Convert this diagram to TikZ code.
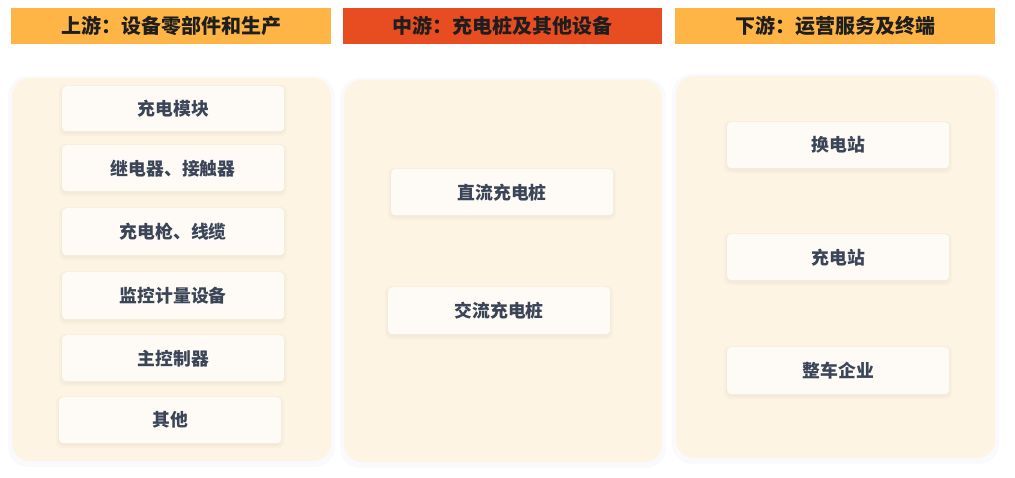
\documentclass[tikz,border=0pt]{standalone}
\usepackage{fontspec}
\setmainfont{Noto Sans CJK SC}
\definecolor{hdrY}{HTML}{FFB545}
\definecolor{hdrR}{HTML}{E84D22}
\definecolor{panel}{HTML}{FDF4E4}
\definecolor{boxfill}{HTML}{FEFBF6}
\definecolor{boxtext}{HTML}{3B4557}
\definecolor{hdrtext}{HTML}{1E1E1E}
\tikzset{
  hdr/.style={minimum width=320pt, minimum height=36pt, inner sep=0pt, text=hdrtext, font=\fontsize{20}{23}\selectfont\bfseries},
  panelbox/.style={fill=panel, rounded corners=18pt, draw=none},
  item/.style={minimum width=222pt, minimum height=46pt, inner sep=0pt, fill=boxfill, rounded corners=4pt, text=boxtext, font=\fontsize{17.8}{20}\selectfont\bfseries},
  shade/.style={fill=black!60!brown, opacity=0.025, rounded corners=6pt}
}
\newcommand{\itemshadow}[4]{%
  \fill[shade] (#1-3,#2-1) rectangle (#3+3,#4+5);
  \fill[shade] (#1-1,#2) rectangle (#3+1,#4+3);
}
\begin{document}
\begin{tikzpicture}[x=1pt,y=-1pt]
\useasboundingbox (0,0) rectangle (1015,477);
\fill[white] (0,0) rectangle (1015,477);
% headers
\node[hdr, fill=hdrY, anchor=north west] (h1) at (11,8) {上游：设备零部件和生产};
\node[hdr, fill=hdrR, anchor=north west, minimum width=319pt] (h2) at (343,8) {中游：充电桩及其他设备};
\node[hdr, fill=hdrY, anchor=north west] (h3) at (675,8) {下游：运营服务及终端};
% panel shadows
\foreach \a/\b/\c/\d in {12/78/331/461, 344/80/662/462, 676/76/995/458}{
  \fill[black!40!blue, opacity=0.02, rounded corners=20pt] (\a-4,\b-2) rectangle (\c+4,\d+6);
}
% panels
\fill[panelbox] (12,78) rectangle (331,461);
\fill[panelbox] (344,80) rectangle (662,462);
\fill[panelbox] (676,76) rectangle (995,458);
% left items
\itemshadow{62}{86}{284}{131}
\itemshadow{62}{145}{284}{191}
\itemshadow{62}{208}{284}{255}
\itemshadow{62}{272}{284}{319}
\itemshadow{62}{335}{284}{381}
\itemshadow{59}{397}{281}{443}
\node[item, minimum height=45pt, anchor=north west] (l1) at (62,86) {充电模块};
\node[item, anchor=north west] (l2) at (62,145) {继电器、接触器};
\node[item, minimum height=47pt, anchor=north west] (l3) at (62,208) {充电枪、线缆};
\node[item, minimum height=47pt, anchor=north west] (l4) at (62,272) {监控计量设备};
\node[item, anchor=north west] (l5) at (62,335) {主控制器};
\node[item, anchor=north west] (l6) at (59,397) {其他};
% middle items
\itemshadow{391}{169}{613}{215}
\itemshadow{388}{287}{610}{334}
\node[item, anchor=north west] (m1) at (391,169) {直流充电桩};
\node[item, minimum height=47pt, anchor=north west] (m2) at (388,287) {交流充电桩};
% right items
\itemshadow{727}{122}{949}{168}
\itemshadow{727}{234}{949}{280}
\itemshadow{727}{347}{949}{394}
\node[item, anchor=north west] (r1) at (727,122) {换电站};
\node[item, anchor=north west] (r2) at (727,234) {充电站};
\node[item, minimum height=47pt, anchor=north west] (r3) at (727,347) {整车企业};
\end{tikzpicture}
\end{document}
